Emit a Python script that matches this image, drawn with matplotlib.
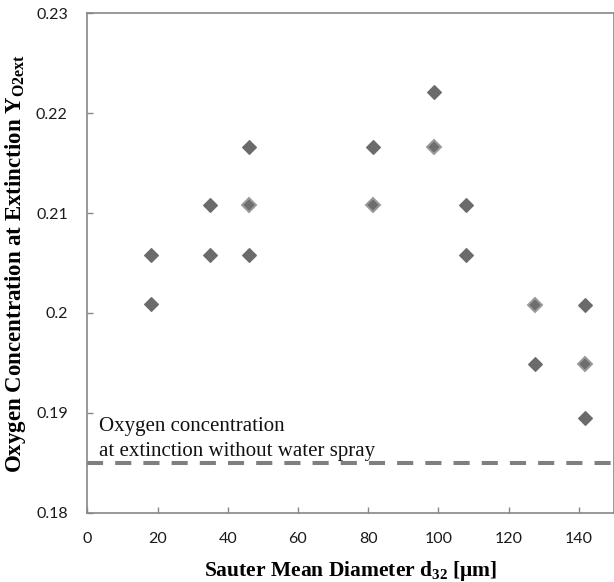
import matplotlib
matplotlib.use("Agg")
import matplotlib.pyplot as plt
from matplotlib.ticker import FuncFormatter

plt.rcParams['mathtext.fontset'] = 'custom'
plt.rcParams['mathtext.rm'] = 'Liberation Serif:bold'
plt.rcParams['mathtext.bf'] = 'Liberation Serif:bold'
plt.rcParams['mathtext.default'] = 'bf'

# Series 1 (solid dark diamonds)
d32_a = [18.1, 18.1, 35.0, 35.0, 46.1, 46.1, 81.4, 98.6, 107.8, 107.8, 127.5, 141.6, 141.6]
yo2_a = [0.2058, 0.2009, 0.2108, 0.2058, 0.2166, 0.2058, 0.2166, 0.2221, 0.2108, 0.2058, 0.1949, 0.2008, 0.1895]
# Series 2 (lighter-edged diamonds)
d32_b = [46.1, 81.4, 98.6, 127.5, 141.6]
yo2_b = [0.2108, 0.2108, 0.2166, 0.2008, 0.1949]
# Reference without water spray
y_ref = 0.185

xticks = [0, 20, 40, 60, 80, 100, 120, 140]
yticks = [0.18, 0.19, 0.20, 0.21, 0.22, 0.23]

W, H = 614, 582
fig = plt.figure(figsize=(W / 100, H / 100), dpi=100)
ax = fig.add_axes([87.3 / W, 1 - 512.7 / H, (W - 87.3) / W, (512.7 - 13.3) / H])

ax.plot(d32_a, yo2_a, ls='none', marker='D', ms=7.2, mfc='#6b6b6b', mec='#6b6b6b', mew=0.8, zorder=3)
ax.plot(d32_b, yo2_b, ls='none', marker='D', ms=7.2, mfc='#6e6e6e', mec='#9a9a9a', mew=1.4, zorder=3)
ax.axhline(y_ref, color='#7f7f7f', lw=2.9, ls=(0, (4, 3)), zorder=2)

ax.text(3.2, 0.1882, "Oxygen concentration", family='Liberation Serif', fontsize=15, color='#111111', va='baseline')
ax.text(3.2, 0.1857, "at extinction without water spray", family='Liberation Serif', fontsize=15, color='#111111', va='baseline')

ax.set_xlim(0, 150)
ax.set_ylim(0.18, 0.23)
ax.set_xticks(xticks)
ax.set_yticks(yticks)
ax.yaxis.set_major_formatter(FuncFormatter(lambda v, p: f"{v:g}" if abs(v - 0.2) > 1e-9 else "0.2"))

for s in ['left', 'bottom', 'top', 'right']:
    ax.spines[s].set_color('#878787')
    ax.spines[s].set_linewidth(1.2)
ax.tick_params(direction='in', length=4, width=1, color='#878787', labelsize=11.5,
               labelcolor='#1a1a1a', pad=14)
for lab in ax.get_xticklabels() + ax.get_yticklabels():
    lab.set_family('Lato')

ax.set_xlabel(r"Sauter Mean Diameter d$_{32}$ [μm]", family='Liberation Serif', fontweight='bold',
              fontsize=15.5, labelpad=9)
ax.set_ylabel(r"Oxygen Concentration at Extinction Y$_{O2ext}$", family='Liberation Serif',
              fontweight='bold', fontsize=16.5, labelpad=6)

fig.savefig("out.png", dpi=100)
